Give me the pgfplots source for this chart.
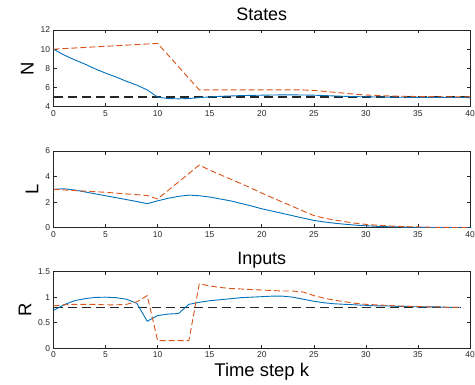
\documentclass[border=0pt]{standalone}
\usepackage{fontspec}
\setmainfont{Liberation Sans}
\usepackage{pgfplots}
\pgfplotsset{compat=1.18}
\definecolor{mblue}{rgb}{0,0.447,0.741}
\definecolor{morange}{rgb}{0.85,0.325,0.098}
\definecolor{axgray}{rgb}{0.15,0.15,0.15}
\pgfplotsset{
  every axis title/.style={at={(0.5,1)}, anchor=base, font=\fontsize{18}{20}\selectfont},
  myax/.style={
    scale only axis, width=416.5bp, height=76.7bp, anchor=south west,
    xmin=0, xmax=40, xtick={0,5,...,40},
    axis line style={axgray, line width=0.6bp},
    tick style={axgray, line width=0.6bp},
    tick align=inside, major tick length=3.5bp,
    xtick pos=both, ytick pos=both,
    ticklabel style={font=\fontsize{8.5}{10}\selectfont, text=axgray},
    /pgf/number format/assume math mode=true,
    ylabel style={font=\fontsize{18.5}{20}\selectfont, text=black},
    clip=true,
  },
  bl/.style={mblue, line width=0.9bp, no marks},
  or/.style={morange, line width=0.9bp, no marks, dash pattern=on 6bp off 3bp},
  bk/.style={black!85, line width=2bp, no marks, dash pattern=on 9bp off 5bp},
}
\begin{document}
\begin{tikzpicture}[x=1bp,y=1bp]
% ---------- N ----------
\begin{axis}[myax, at={(53.5bp,277.3bp)}, ymin=4, ymax=12, ytick={4,6,...,12},
  ylabel={N}, title={States}, title style={yshift=9.3bp}]
\addplot[bk] coordinates {(0,5) (40,5)};
\addplot[bl] coordinates {(0,10.0) (1,9.4) (2,8.9) (3,8.45) (4,7.95) (5,7.5) (6,7.1) (7,6.65) (8,6.25) (9,5.75) (10,5.0) (11,4.85) (12,4.82) (13,4.85) (14,4.95) (15,5.02) (16,5.08) (17,5.12) (18,5.16) (19,5.18) (20,5.2) (21,5.22) (22,5.23) (23,5.23) (24,5.22) (25,5.2) (26,5.16) (27,5.12) (28,5.08) (29,5.05) (30,5.03) (31,5.01) (32,5.0) (33,4.99) (34,4.98) (35,4.97) (36,4.97) (37,4.96) (38,4.96) (39,4.96) (40,4.95)};
\addplot[or] coordinates {(0,10.0) (10,10.6) (14,5.75) (24,5.75) (25,5.7) (26,5.6) (27,5.5) (28,5.4) (29,5.3) (30,5.22) (31,5.17) (32,5.13) (33,5.1) (34,5.08) (35,5.06) (36,5.05) (37,5.04) (38,5.03) (39,5.02) (40,5.02)};
\end{axis}
% ---------- L ----------
\begin{axis}[myax, at={(53.5bp,156.3bp)}, ymin=0, ymax=6, ytick={0,2,4,6},
  ylabel={L}]
\addplot[bk] coordinates {(0,0) (40,0)};
\addplot[bl] coordinates {(0,3.0) (1,3.05) (2,2.95) (3,2.8) (4,2.65) (5,2.5) (6,2.35) (7,2.2) (8,2.05) (9,1.88) (10,2.1) (11,2.3) (12,2.45) (13,2.55) (14,2.5) (15,2.4) (16,2.25) (17,2.1) (18,1.9) (19,1.7) (20,1.48) (21,1.3) (22,1.12) (23,0.93) (24,0.75) (25,0.57) (26,0.45) (27,0.35) (28,0.27) (29,0.2) (30,0.15) (31,0.11) (32,0.08) (33,0.06) (34,0.04) (35,0.03) (36,0.02) (37,0.01) (38,0.01) (39,0.0) (40,0.0)};
\addplot[or] coordinates {(0,3.0) (5,2.77) (9,2.52) (10,2.25) (14,4.9) (15,4.5) (16,4.15) (17,3.8) (18,3.45) (19,3.1) (20,2.7) (21,2.35) (22,2.0) (23,1.65) (24,1.3) (25,0.95) (26,0.75) (27,0.6) (28,0.47) (29,0.35) (30,0.26) (31,0.2) (32,0.15) (33,0.11) (34,0.08) (35,0.06) (36,0.04) (37,0.03) (38,0.02) (39,0.01) (40,0.0)};
\end{axis}
% ---------- R ----------
\begin{axis}[myax, at={(53.5bp,35.7bp)}, ymin=0, ymax=1.5, ytick={0,0.5,1,1.5},
  ylabel={R}, title={Inputs}, title style={yshift=7bp},
  xlabel={Time step k},
  xlabel style={font=\fontsize{18.5}{20}\selectfont, text=black, at={(0.5,0)}, anchor=base, yshift=-27.7bp}]
\addplot[bk, line width=1.3bp] coordinates {(0,0.8) (39,0.8)};
\addplot[bl] coordinates {(0,0.74) (1,0.85) (2,0.93) (3,0.97) (4,0.995) (5,1.0) (6,0.99) (7,0.96) (8,0.88) (9,0.53) (10,0.64) (11,0.67) (12,0.68) (13,0.86) (14,0.9) (15,0.93) (16,0.95) (17,0.97) (18,0.99) (19,1.0) (20,1.01) (21,1.02) (22,1.02) (23,1.0) (24,0.96) (25,0.92) (26,0.89) (27,0.87) (28,0.86) (29,0.85) (30,0.84) (31,0.83) (32,0.83) (33,0.82) (34,0.82) (35,0.81) (36,0.81) (37,0.81) (38,0.8) (39,0.8)};
\addplot[or] coordinates {(0,0.83) (1,0.85) (2,0.86) (3,0.86) (4,0.86) (5,0.85) (6,0.85) (7,0.86) (8,0.91) (9,1.03) (10,0.15) (11,0.15) (12,0.15) (13,0.15) (14,1.26) (15,1.22) (16,1.19) (17,1.17) (18,1.16) (19,1.15) (20,1.14) (21,1.13) (22,1.12) (23,1.12) (24,1.1) (25,1.03) (26,0.98) (27,0.94) (28,0.91) (29,0.88) (30,0.86) (31,0.85) (32,0.84) (33,0.83) (34,0.82) (35,0.82) (36,0.81) (37,0.81) (38,0.8) (39,0.8)};
\end{axis}
\pgfresetboundingbox
\useasboundingbox (0,0) rectangle (475,384);
\end{tikzpicture}
\end{document}
